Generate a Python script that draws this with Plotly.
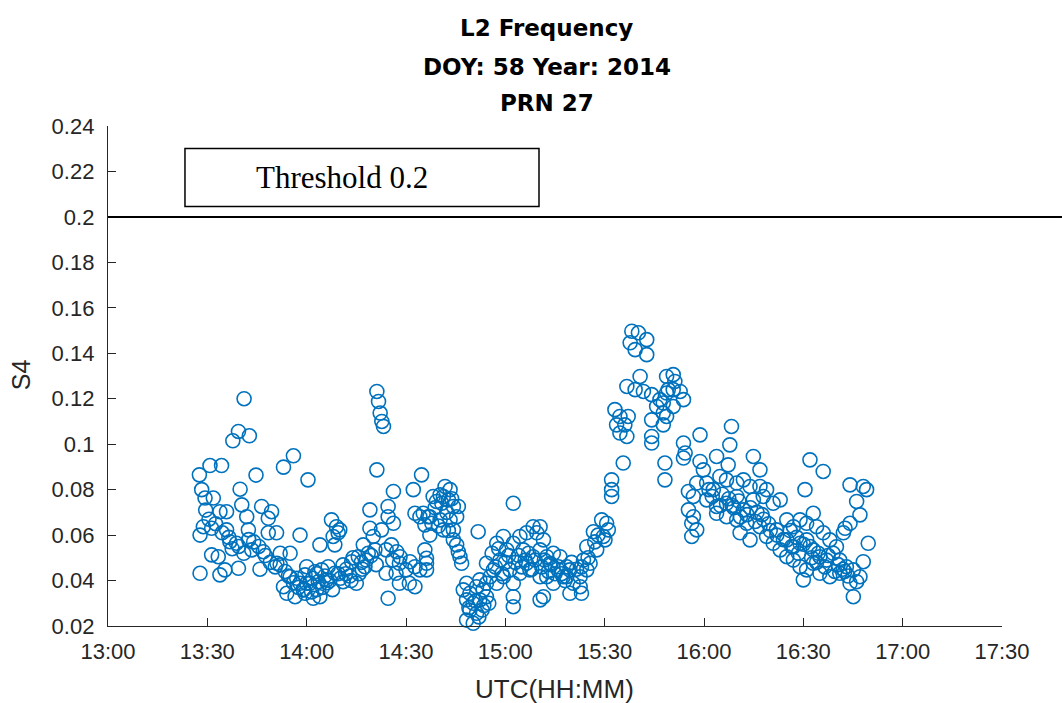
import pandas as pd
import plotly.graph_objects as go

# S4 index on L2, PRN 27, DOY 58 of 2014 (27 Feb). Times are minutes after 13:00 UTC.
t_min = [
    # 13:27 - 13:40
    41.1, 39.4, 42.7, 37.7, 56.0, 53.0, 30.8, 34.3, 27.6, 44.7, 60.4, 28.3, 39.9, 29.3, 31.8,
    40.4, 46.4, 49.4, 33.8, 35.8, 41.9, 48.4, 28.8, 31.3, 27.8, 35.8, 42.4, 48.4, 50.9, 58.0,
    36.8, 38.8, 43.4, 46.9, 31.3, 33.3, 52.0, 55.0, 39.4, 45.9, 33.8, 35.3, 27.8, 51.0, 52.0,
    55.0, 57.0, 59.5, 54.0, 56.5, 59.0, 53.0, 58.0, 60.0,
    29.5, 30.5, 32.5, 34.5, 36.5, 37.5, 39.5, 41.0, 42.5, 44.0, 45.5, 47.5, 49.0, 50.5, 53.5,
    54.5, 56.0, 57.5, 59.0, 61.5, 63.0,
    # 14:00 - 14:35
    81.2, 81.7, 82.2, 82.7, 83.2, 81.2, 94.7, 86.2, 92.2, 79.1, 84.6, 84.6, 67.5, 69.0, 70.0,
    86.2, 92.7, 94.2, 96.7, 69.5, 68.0, 79.1, 80.1, 82.6, 64.0, 68.5, 77.1, 80.6, 85.6, 87.2,
    88.2, 91.2, 92.7, 94.2, 60.0, 62.5, 64.5, 66.5, 68.5, 71.0, 73.6, 75.6, 77.6, 78.6, 61.0,
    63.5, 66.0, 71.0, 75.0, 59.5, 62.0, 64.0, 84.0, 86.0, 88.0, 84.0, 87.0, 90.0, 88.0, 91.0,
    84.6, 92.7,
    65.5, 67.0, 69.5, 72.0, 73.0, 74.0, 76.5, 78.0, 79.5, 81.0,
    61.8, 63.0, 64.8, 66.2, 67.8, 70.2, 71.8, 73.4, 75.8, 76.8,
    # 14:35 - 15:12
    101.8, 103.3, 100.3, 98.2, 99.2, 101.3, 102.8, 104.3, 105.8, 95.2, 97.2, 100.3, 103.3, 105.3,
    95.7, 97.8, 101.3, 104.3, 97.2, 104.3, 105.3, 95.7, 96.2, 96.2, 96.2, 105.8, 106.3, 106.8,
    111.8, 122.4, 108.3, 107.3, 109.3, 111.3, 113.3, 108.3, 110.3, 112.3, 114.3, 109.3, 111.3,
    108.3, 110.3, 112.3, 114.3, 116.4, 118.4, 115.4, 117.4, 119.4, 121.4, 122.4, 124.4, 126.4,
    128.4, 130.5, 132.5, 120.4, 122.4, 124.4, 126.4, 128.4, 129.5, 125.4, 127.4, 130.5, 122.4,
    130.5, 122.4, 117.4, 119.4, 114.3,
    98.8, 100.8, 102.3, 103.8, 99.8, 102.8, 109.0, 111.0, 113.0, 115.0, 112.0, 113.5,
    116.0, 118.0, 121.0, 123.0, 125.0, 127.0, 129.0, 131.0, 133.0, 135.0,
    117.0, 119.0, 120.0, 124.0, 126.0, 128.0, 131.8, 133.8, 135.8, 137.0, 138.0,
    # 15:10 - 15:50
    158.2, 160.2, 162.7, 159.2, 162.7, 157.7, 160.7, 156.7, 159.2, 161.7, 164.2, 166.7, 168.7,
    169.2, 165.7, 167.7, 153.1, 154.6, 157.1, 153.6, 156.1, 154.6, 156.7, 164.2, 164.2, 164.2,
    155.6, 152.1, 152.1, 152.1, 168.2, 168.2, 149.1, 150.6, 146.6, 149.6, 151.1, 144.6, 147.6,
    150.1, 143.6, 145.6, 144.6, 142.6, 140.5, 142.6, 139.5, 143.0, 138.5, 130.5, 131.5, 134.5,
    136.5, 133.5, 136.0, 138.5, 132.5, 134.5, 131.5, 137.5, 139.5,
    140.0, 141.5, 143.0, 145.0, 147.0, 148.0,
    # 15:47 - 16:25
    170.7, 171.2, 170.7, 172.8, 173.8, 168.7, 167.7, 170.7, 168.7, 167.7, 188.3, 178.8, 173.8,
    174.3, 173.8, 187.8, 178.8, 183.8, 187.3, 194.9, 196.9, 179.8, 175.3, 177.8, 180.8, 182.8,
    184.8, 186.8, 189.9, 191.9, 193.9, 196.9, 198.9, 176.8, 180.8, 183.8, 186.8, 189.9, 191.9,
    194.9, 197.9, 200.9, 203.0, 175.3, 176.8, 176.3, 176.3, 177.8, 183.8, 186.8, 189.9, 192.9,
    190.9, 193.9, 196.9, 198.9, 200.9, 203.0, 205.0, 201.9,
    185.5, 188.5, 190.5, 193.0, 195.5, 197.5, 199.5, 202.0,
    181.5, 182.5, 185.0, 187.5, 189.0, 191.0, 194.0, 196.0, 198.0, 200.0,
    # 16:25 - 16:50
    212.0, 216.0, 210.5, 224.1, 228.1, 229.1, 226.1, 227.1, 224.1, 222.6, 229.6, 228.1, 225.1,
    205.0, 207.0, 209.0, 211.0, 213.0, 214.0, 216.0, 218.0, 220.0, 205.0, 207.0, 209.0, 211.0,
    213.0, 215.0, 217.0, 219.0, 221.0, 223.0, 225.1, 227.1, 207.0, 209.0, 211.0, 213.0, 210.0,
    215.0, 218.0, 221.0, 224.1, 226.1, 222.1,
    206.0, 208.0, 210.0, 212.0, 214.5, 216.5, 219.5, 222.0, 223.5,
    204.0, 206.5, 208.5, 212.5, 214.0, 217.5, 220.5, 222.5,
]

s4 = [
    # 13:27 - 13:40
    .1200, .1056, .1037, .1015, .0949, .0899, .0906, .0906, .0865, .0864, .0843, .0800, .0802, .0763, .0763,
    .0733, .0726, .0703, .0703, .0703, .0681, .0674, .0637, .0630, .0600, .0623, .0623, .0610, .0610, .0600,
    .0571, .0564, .0535, .0527, .0513, .0505, .0520, .0520, .0454, .0450, .0425, .0447, .0432, .0476, .0469,
    .0417, .0410, .0425, .0344, .0329, .0359, .0373, .0388, .0388,
    .0710, .0670, .0650, .0610, .0590, .0540, .0550, .0520, .0580, .0570, .0550, .0510, .0480, .0460, .0440,
    .0420, .0390, .0370, .0360, .0350, .0360,
    # 14:00 - 14:35
    .1232, .1188, .1137, .1100, .1078, .0887, .0865, .0792, .0800, .0711, .0726, .0681, .0667, .0637, .0623,
    .0652, .0696, .0681, .0681, .0610, .0594, .0630, .0594, .0623, .0557, .0557, .0557, .0535, .0557, .0527,
    .0505, .0483, .0461, .0447, .0461, .0439, .0447, .0461, .0432, .0469, .0483, .0505, .0461, .0520, .0388,
    .0395, .0403, .0395, .0388, .0344, .0322, .0329, .0535, .0490, .0476, .0432, .0432, .0447, .0388, .0388,
    .0322, .0373,
    .0420, .0400, .0430, .0450, .0420, .0500, .0480, .0490, .0510, .0470,
    .0410, .0430, .0370, .0390, .0360, .0410, .0430, .0400, .0430, .0450,
    # 14:35 - 15:12
    .0814, .0800, .0777, .0770, .0748, .0770, .0755, .0726, .0726, .0696, .0681, .0667, .0667, .0681,
    .0645, .0652, .0623, .0623, .0600, .0579, .0557, .0535, .0498, .0476, .0447, .0527, .0505, .0476,
    .0615, .0740, .0388, .0359, .0344, .0373, .0359, .0315, .0300, .0315, .0329, .0270, .0256,
    .0226, .0212, .0403, .0476, .0447, .0490, .0417, .0388, .0417, .0447, .0388, .0432, .0476,
    .0505, .0535, .0505, .0535, .0564, .0594, .0610, .0637, .0610, .0535, .0447, .0417, .0329,
    .0315, .0285, .0564, .0594, .0388,
    .0720, .0740, .0700, .0760, .0640, .0620, .0280, .0310, .0270, .0300, .0240, .0290,
    .0520, .0540, .0510, .0480, .0460, .0520, .0490, .0460, .0440, .0430,
    .0460, .0430, .0480, .0510, .0490, .0450, .0490, .0470, .0450, .0430, .0400,
    # 15:10 - 15:50
    .1497, .1490, .1460, .1416, .1394, .1446, .1298, .1254, .1240, .1232, .1218, .1196, .1298,
    .1240, .1166, .1137, .1152, .1122, .1122, .1085, .1085, .1049, .1034, .1107, .1034, .1005,
    .0917, .0843, .0800, .0770, .0917, .0843, .0667, .0652, .0615, .0594, .0623, .0549, .0535,
    .0579, .0490, .0476, .0447, .0417, .0388, .0373, .0344, .0344, .0417, .0637, .0579, .0520,
    .0505, .0476, .0461, .0461, .0417, .0388, .0329, .0417, .0447,
    .0480, .0450, .0460, .0500, .0570, .0600,
    # 15:47 - 16:25
    .1306, .1276, .1240, .1232, .1196, .1225, .1181, .1166, .1122, .1085, .1078, .1041, .1005,
    .0961, .0939, .0997, .0924, .0946, .0909, .0946, .0887, .0887, .0792, .0829, .0829, .0800,
    .0858, .0843, .0829, .0843, .0814, .0814, .0800, .0770, .0755, .0726, .0740, .0770, .0711,
    .0755, .0770, .0740, .0755, .0711, .0681, .0652, .0594, .0623, .0696, .0681, .0667, .0652,
    .0610, .0579, .0637, .0594, .0564, .0535, .0505, .0623,
    .0780, .0730, .0750, .0690, .0660, .0690, .0650, .0600,
    .0800, .0770, .0730, .0760, .0720, .0680, .0720, .0700, .0670, .0620,
    # 16:25 - 16:50
    .0931, .0880, .0800, .0821, .0814, .0800, .0748, .0689, .0652, .0630, .0564, .0483, .0329,
    .0667, .0637, .0667, .0652, .0696, .0637, .0610, .0579, .0549, .0579, .0549, .0564, .0579,
    .0535, .0505, .0490, .0520, .0490, .0461, .0447, .0417, .0490, .0461, .0447, .0476, .0403,
    .0432, .0417, .0432, .0388, .0395, .0610,
    .0620, .0590, .0560, .0550, .0520, .0460, .0440, .0450, .0420,
    .0580, .0550, .0520, .0500, .0480, .0510, .0470, .0440,
]

threshold = 0.2
y_ticks = [0.02, 0.04, 0.06, 0.08, 0.1, 0.12, 0.14, 0.16, 0.18, 0.2, 0.22, 0.24]
y_tick_text = ["0.02", "0.04", "0.06", "0.08", "0.1", "0.12", "0.14", "0.16", "0.18", "0.2", "0.22", "0.24"]
title_lines = ["L2 Frequency", "DOY: 58 Year: 2014", "PRN 27"]

day = pd.Timestamp("2014-02-27 13:00:00")
times = day + pd.to_timedelta(t_min, unit="min")

AX = "#262626"
tick_font = dict(family="Liberation Sans, Arial, sans-serif", size=22, color=AX)

fig = go.Figure()
fig.add_trace(go.Scatter(
    x=times, y=s4, mode="markers",
    marker=dict(symbol="circle-open", size=14, color="#0072BD",
                line=dict(width=1.6, color="#0072BD")),
    showlegend=False, cliponaxis=False,
))

fig.update_layout(
    width=1062, height=703,
    margin=dict(l=108, r=60, t=126, b=77),
    paper_bgcolor="white", plot_bgcolor="white",
    xaxis=dict(
        type="date",
        range=[day, day + pd.Timedelta(minutes=270)],
        dtick=30 * 60 * 1000, tick0=day, tickformat="%H:%M",
        showline=True, linecolor=AX, linewidth=1.3, mirror=False,
        ticks="inside", ticklen=8, tickwidth=1.3, tickcolor=AX,
        showgrid=False, zeroline=False, tickfont=tick_font,
        ticklabelstandoff=5,
    ),
    yaxis=dict(
        range=[0.02, 0.24], tickvals=y_ticks, ticktext=y_tick_text,
        showline=True, linecolor=AX, linewidth=1.3, mirror=False,
        ticks="inside", ticklen=8, tickwidth=1.3, tickcolor=AX,
        showgrid=False, zeroline=False, tickfont=tick_font,
        ticklabelstandoff=8,
    ),
)

# threshold line, running past the right end of the axis to the page edge
fig.add_shape(type="line", xref="paper", yref="y", x0=0, x1=1.0671,
              y0=threshold, y1=threshold, line=dict(color="black", width=2))

# label box
fig.add_shape(type="rect", xref="paper", yref="y", x0=0.0861, x1=0.4821,
              y0=0.2046, y1=0.2301, line=dict(color="black", width=1.5),
              fillcolor="white")
fig.add_annotation(xref="paper", yref="y", x=0.1633, y=0.2173, xanchor="left",
                   yanchor="middle", showarrow=False, text=f"Threshold {threshold:g}",
                   font=dict(family="Liberation Serif, Times New Roman, serif",
                             size=31, color="black"))

# three-line title
for txt, yp in zip(title_lines, [1.1968, 1.1174, 1.0468]):
    fig.add_annotation(xref="paper", yref="paper", x=0.491, y=yp, xanchor="center",
                       yanchor="middle", showarrow=False, text=f"<b>{txt}</b>",
                       font=dict(family="DejaVu Sans, sans-serif", size=23, color="black"))

# axis titles
fig.add_annotation(xref="paper", yref="paper", x=-0.097, y=0.502, textangle=-90,
                   xanchor="center", yanchor="middle", showarrow=False, text="S4",
                   font=dict(family="Liberation Sans, Arial, sans-serif", size=25, color=AX))
fig.add_annotation(xref="paper", yref="paper", x=0.4989, y=-0.126, xanchor="center",
                   yanchor="middle", showarrow=False, text="UTC(HH:MM)",
                   font=dict(family="Liberation Sans, Arial, sans-serif", size=26, color=AX))

fig.write_html("out.html")
